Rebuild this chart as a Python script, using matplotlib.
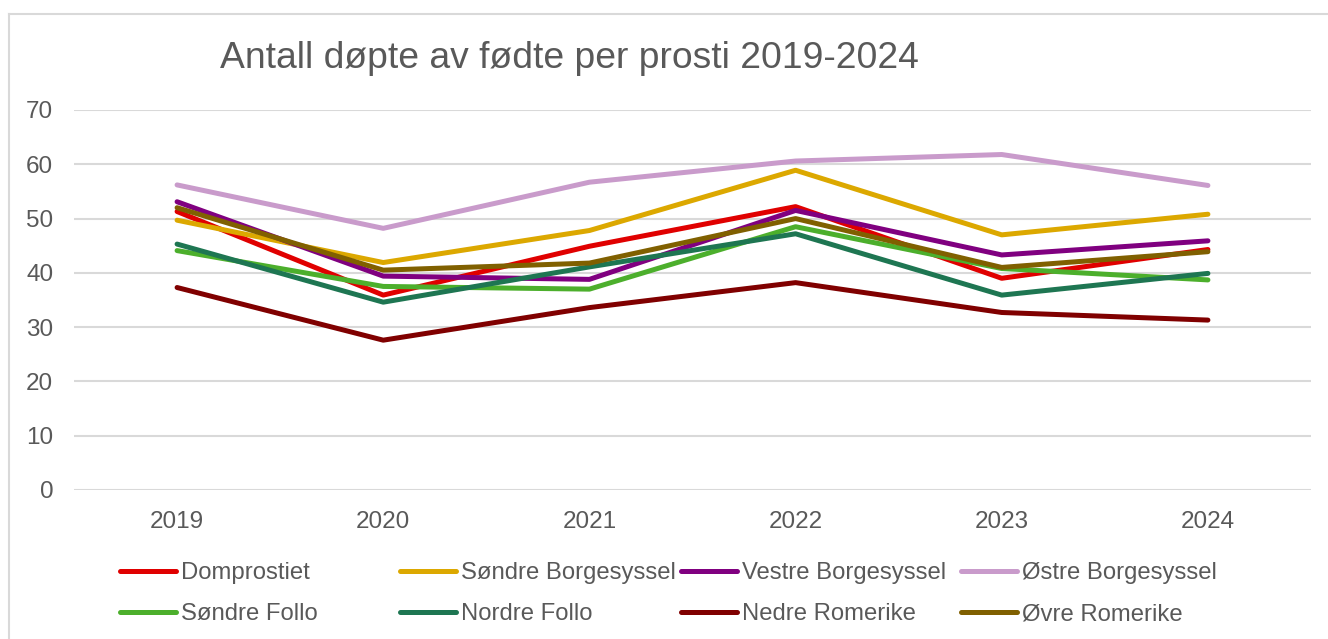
import matplotlib
matplotlib.use('Agg')
import matplotlib.pyplot as plt
from matplotlib.lines import Line2D

plt.rcParams['font.family'] = ['Liberation Sans', 'DejaVu Sans']

# Data
years = ['2019', '2020', '2021', '2022', '2023', '2024']
domprostiet = [51.3, 35.9, 44.9, 52.2, 39.0, 44.3]
sondre_borgesyssel = [49.7, 41.9, 47.8, 58.9, 47.0, 50.8]
vestre_borgesyssel = [53.1, 39.4, 38.8, 51.5, 43.3, 45.9]
ostre_borgesyssel = [56.2, 48.2, 56.7, 60.6, 61.8, 56.1]
sondre_follo = [44.1, 37.5, 37.0, 48.5, 40.8, 38.7]
nordre_follo = [45.3, 34.6, 41.1, 47.2, 35.9, 39.9]
nedre_romerike = [37.3, 27.6, 33.6, 38.2, 32.7, 31.3]
ovre_romerike = [52.0, 40.5, 41.8, 50.0, 41.0, 43.9]

series = [
    ('Domprostiet', domprostiet, '#E00000'),
    ('Søndre Borgesyssel', sondre_borgesyssel, '#DCA800'),
    ('Vestre Borgesyssel', vestre_borgesyssel, '#800080'),
    ('Østre Borgesyssel', ostre_borgesyssel, '#C99BCB'),
    ('Søndre Follo', sondre_follo, '#4CAF2C'),
    ('Nordre Follo', nordre_follo, '#1E7652'),
    ('Nedre Romerike', nedre_romerike, '#800000'),
    ('Øvre Romerike', ovre_romerike, '#806000'),
]

txt = '#595959'
grid = '#D9D9D9'
W, H = 1328, 639

fig = plt.figure(figsize=(W / 100, H / 100), dpi=100)
ax = fig.add_axes([74 / W, 1 - 490 / H, (1311 - 74) / W, 380 / H])

x = list(range(len(years)))
handles = []
for name, vals, col in series:
    ln, = ax.plot(x, vals, color=col, lw=3.6, solid_capstyle='round',
                  solid_joinstyle='round', label=name)
    handles.append(ln)

ax.set_xlim(-0.5, len(years) - 0.5)
ax.set_ylim(0, 70)
ax.set_yticks(range(0, 71, 10))
ax.set_xticks(x)
ax.set_xticklabels(years)
ax.yaxis.grid(True, color=grid, lw=1.5)
ax.set_axisbelow(True)
for s in ax.spines.values():
    s.set_visible(False)
ax.tick_params(axis='both', length=0, labelsize=17.5, colors=txt)
ax.tick_params(axis='y', pad=15)
ax.tick_params(axis='x', pad=15)

fig.text(220 / W, 1 - 58 / H, 'Antall døpte av fødte per prosti 2019-2024',
         fontsize=26.8, color=txt, ha='left', va='center')

# legend, one block per column so the columns sit at even spacing
col_x = [120, 400, 681, 961]
for i, cx in enumerate(col_x):
    hs = [handles[i], handles[i + 4]]
    leg = fig.legend(hs, [h.get_label() for h in hs], loc='center left',
                     bbox_to_anchor=(cx / W, 1 - 593.5 / H), frameon=False,
                     fontsize=17.2, handlelength=2.35, handletextpad=0.2,
                     labelspacing=0.8, borderpad=0, borderaxespad=0)
    for t in leg.get_texts():
        t.set_color(txt)

# chart frame
fig.add_artist(Line2D([9 / W, 9 / W], [0, 1 - 14 / H], color=grid, lw=1.5))
fig.add_artist(Line2D([9 / W, 1], [1 - 14 / H, 1 - 14 / H], color=grid, lw=1.5))

fig.savefig('out.png', dpi=100, facecolor='white')
